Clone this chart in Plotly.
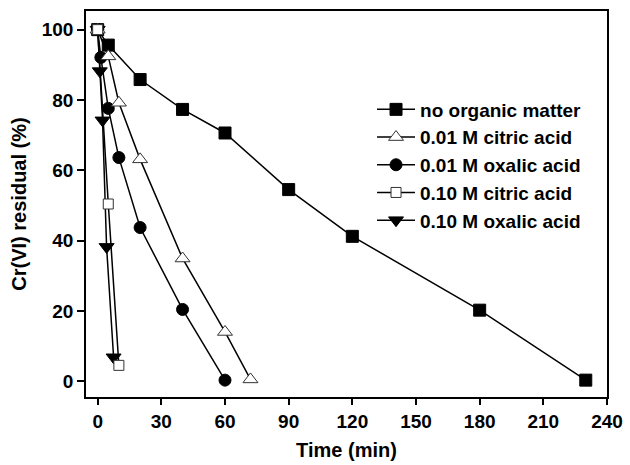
import plotly.graph_objects as go

# ---- data ----
t_none = [0, 5, 20, 40, 60, 90, 120, 180, 230]
y_none = [100, 95.6, 85.8, 77.3, 70.6, 54.5, 41.2, 20.2, 0.3]

t_cit01 = [0, 5, 10, 20, 40, 60, 72]
y_cit01 = [100, 92.4, 79.2, 63.1, 34.9, 14.0, 0.5]

t_oxa01 = [0, 1.5, 5, 10, 20, 40, 60]
y_oxa01 = [100, 92.1, 77.6, 63.6, 43.7, 20.4, 0.3]

t_cit10 = [0, 5, 10]
y_cit10 = [100, 50.4, 4.5]

t_oxa10 = [0, 1, 2.3, 4.2, 7.5]
y_oxa10 = [100, 88.2, 74.2, 38.2, 6.8]

names = ["no organic matter", "0.01 M citric acid", "0.01 M oxalic acid",
         "0.10 M citric acid", "0.10 M oxalic acid"]

x_ticks = [0, 30, 60, 90, 120, 150, 180, 210, 240]
y_ticks = [0, 20, 40, 60, 80, 100]

FONT = "Liberation Sans, Arial, Helvetica, sans-serif"

fig = go.Figure()

series = [
    (t_none, y_none, names[0], dict(symbol="square", size=12, color="black",
                                    line=dict(color="black", width=1))),
    (t_cit01, y_cit01, names[1], dict(symbol="triangle-up", size=13, color="white",
                                      line=dict(color="#333333", width=1))),
    (t_oxa01, y_oxa01, names[2], dict(symbol="circle", size=12, color="black",
                                      line=dict(color="black", width=1))),
    (t_cit10, y_cit10, names[3], dict(symbol="square", size=10, color="white",
                                      line=dict(color="#333333", width=1))),
    (t_oxa10, y_oxa10, names[4], dict(symbol="triangle-down", size=13, color="black",
                                      line=dict(color="black", width=1))),
]

# draw filled first, open markers on top, but keep legend order
draw_order = [0, 2, 4, 1, 3]
for i in draw_order:
    x, y, nm, mk = series[i]
    fig.add_trace(go.Scatter(
        x=x, y=y, name=nm, mode="lines+markers",
        line=dict(color="black", width=1.5),
        marker=mk, legendrank=i + 1,
    ))

axis_common = dict(
    showline=True, mirror=True, linecolor="black", linewidth=1.5,
    ticks="outside", tickcolor="black", tickwidth=1.5,
    showgrid=False, zeroline=False, automargin=False,
    tickfont=dict(family=FONT, size=19, color="black", weight="bold"),
)

fig.update_layout(
    width=630, height=465,
    margin=dict(l=86, r=23, t=11, b=68),
    paper_bgcolor="white", plot_bgcolor="white",
    font=dict(family=FONT, color="black", weight="bold"),
    xaxis=dict(range=[-5.5, 240], tickvals=x_ticks, ticklen=6,
               title=dict(text="Time (min)", standoff=12,
                          font=dict(family=FONT, size=20, color="black", weight="bold")),
               **axis_common),
    yaxis=dict(range=[-4.5, 105.3], tickvals=y_ticks, ticklen=7,
               ticklabelstandoff=0,
               title=dict(text="Cr(VI) residual (%)", standoff=10,
                          font=dict(family=FONT, size=20, color="black", weight="bold")),
               **axis_common),
    legend=dict(x=0.549, y=0.794, xanchor="left", yanchor="top",
                bgcolor="rgba(0,0,0,0)", borderwidth=0, itemwidth=38,
                font=dict(family=FONT, size=19, color="black", weight="bold"),
                tracegroupgap=0),
    showlegend=True,
)

fig.write_html("out.html", config={"displayModeBar": False},
               post_script="document.body.style.margin='0px';")
